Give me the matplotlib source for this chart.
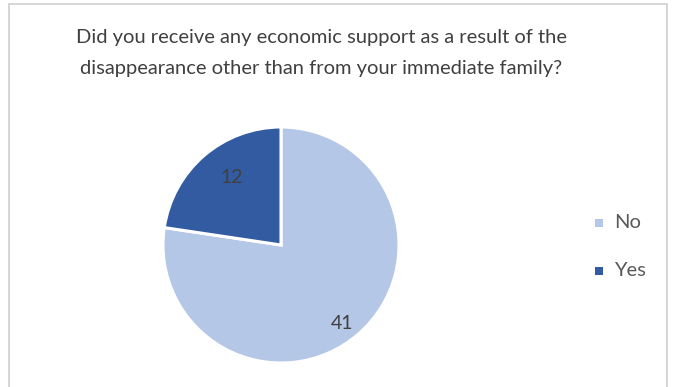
import numpy as np
import matplotlib.pyplot as plt
from matplotlib.patches import Rectangle

categories = ["No", "Yes"]
counts = [41, 12]
colors = ["#B4C7E7", "#335BA2"]
title = ("Did you receive any economic support as a result of the\n"
         "disappearance other than from your immediate family?")

W, H = 675, 387
fig = plt.figure(figsize=(W / 100, H / 100), dpi=100)
fig.patch.set_facecolor("white")

# chart frame
fig.add_artist(Rectangle((9 / W, -0.05), (667 - 9) / W, (H - 4) / H + 0.05,
                         transform=fig.transFigure, fill=False,
                         edgecolor="#D0D0D0", linewidth=1.2))

cx, cy, r = 281, 245, 118
ax = fig.add_axes([(cx - r) / W, (H - cy - r) / H, 2 * r / W, 2 * r / H])
wedges, _ = ax.pie(counts, colors=colors, startangle=90, counterclock=False,
                   wedgeprops=dict(edgecolor="white", linewidth=2.2),
                   radius=1.0)
ax.set_xlim(-1.0, 1.0)
ax.set_ylim(-1.0, 1.0)
ax.set_aspect("auto")

# value labels placed inside each wedge
total = sum(counts)
start = 90.0
label_r = [0.84, 0.71]
label_shift = [-3.0, -5.0]
for i, v in enumerate(counts):
    sweep = 360.0 * v / total
    mid = np.deg2rad(start - sweep / 2 + label_shift[i])
    ax.text(label_r[i] * np.cos(mid), label_r[i] * np.sin(mid), str(v),
            ha="center", va="center", fontsize=14, color="#404040",
            family="Lato")
    start -= sweep

fig.text(321 / W, 1 - 53 / H, title, ha="center", va="center",
         fontsize=14.5, color="#404040", family="Lato", linespacing=1.95)

# legend
for i, (c, col) in enumerate(zip(categories, colors)):
    y = 223 + 48 * i
    fig.add_artist(Rectangle((595 / W, 1 - (y + 4) / H), 8 / W, 8 / H,
                             transform=fig.transFigure, facecolor=col,
                             edgecolor="none"))
    fig.text(614 / W, 1 - y / H, c, ha="left", va="center", fontsize=14.5,
             color="#595959", family="Lato")

fig.savefig("out.png", dpi=100)
